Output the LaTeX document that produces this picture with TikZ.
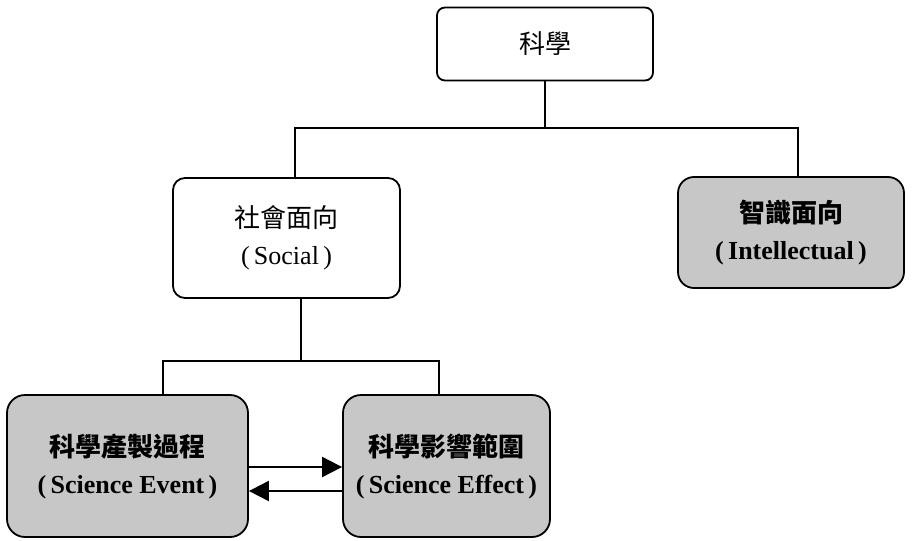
\documentclass[tikz,border=0pt]{standalone}
\usepackage{fontspec}
\setmainfont{Liberation Serif}
\newfontfamily\cjk{Noto Sans CJK TC}
\usetikzlibrary{arrows.meta}
\begin{document}
\begin{tikzpicture}[x=1pt,y=-1pt,
  basebox/.style={draw=black, line width=1.8pt, inner sep=0pt, align=center,
    font=\fontsize{26}{37}\selectfont},
  whitebox/.style={basebox, fill=white},
  graybox/.style={basebox, fill=black!22, font=\fontsize{26}{37}\selectfont\bfseries},
  wire/.style={draw=black, line width=1.8pt},
  arr/.style={draw=black, line width=2pt, -{Triangle[length=20pt,width=20pt]}}]
\useasboundingbox (0,0) rectangle (914,541);
\node[whitebox, rounded corners=8pt, minimum width=216pt, minimum height=73pt] (top) at (545,44) {\cjk 科學};
\node[whitebox, rounded corners=12pt, minimum width=227pt, minimum height=120pt] (social) at (286.5,238)
  {{\cjk 社會面向}\\(\,Social\,)};
\node[graybox, rounded corners=16pt, minimum width=226pt, minimum height=111pt] (intel) at (791,232.5)
  {{\cjk 智識面向}\\(\,Intellectual\,)};
\node[graybox, rounded corners=18pt, minimum width=241pt, minimum height=142pt] (event) at (127.5,466)
  {{\cjk 科學產製過程}\\(\,Science Event\,)};
\node[graybox, rounded corners=18pt, minimum width=207pt, minimum height=142pt] (effect) at (446.5,466)
  {{\cjk 科學影響範圍}\\(\,Science Effect\,)};
\coordinate (hl) at (295,128);
\coordinate (hr) at (798,128);
\coordinate (bm) at (301,361);
\coordinate (bl) at (163,361);
\coordinate (br) at (439,361);
\draw[wire] (top.south) -- (top.south |- hl);
\draw[wire] (hl |- social.north) -- (hl) -- (hr) -- (hr |- intel.north);
\draw[wire] (bm |- social.south) -- (bm);
\draw[wire] (bl |- event.north) -- (bl) -- (br) -- (br |- effect.north);
\draw[arr] ([yshift=-1pt]event.east) -- ([yshift=-1pt]effect.west);
\draw[arr] ([yshift=-25pt]effect.west) -- ([yshift=-25pt]event.east);
\end{tikzpicture}
\end{document}
